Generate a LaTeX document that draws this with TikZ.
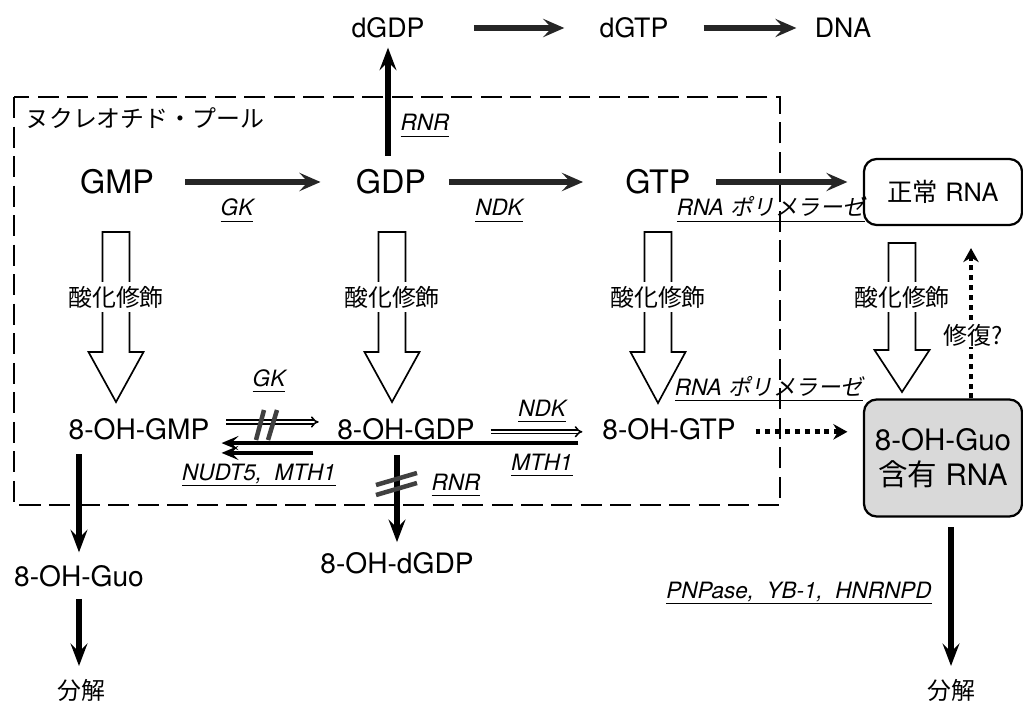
\documentclass[tikz,border=0pt]{standalone}
\usepackage{fontspec}
\setmainfont{TeX Gyre Heros}
\newfontfamily\jp{Noto Sans CJK JP}
\newfontfamily\jpit[FakeSlant=0.2]{Noto Sans CJK JP}
\usetikzlibrary{arrows.meta}
% underlined enzyme name
\newcommand{\enzul}[1]{\setbox0\hbox{#1}\leavevmode\rlap{\raisebox{-4.5pt}{\rule{\wd0}{0.9pt}}}\box0}
\begin{document}
\begin{tikzpicture}[x=0.025cm, y=-0.025cm,
    txt/.style={inner sep=0pt},
    big/.style={txt, font=\fontsize{23}{27}\selectfont},
    mid/.style={txt, font=\fontsize{19}{23}\selectfont},
    oxo/.style={txt, font=\fontsize{20}{24}\selectfont},
    jpt/.style={txt, font=\jp\fontsize{17}{20}\selectfont},
    enz/.style={txt, anchor=base, font=\fontsize{16}{19}\selectfont\itshape},
    rnabox/.style={draw, line width=1.6pt, rounded corners=9pt, minimum width=3.95cm, align=center},
    rxn/.style={line width=3.6pt, draw=black!85, -{Stealth[length=15pt,width=13pt,inset=6pt]}},
    downarr/.style={line width=3.8pt, -{Stealth[length=16pt,width=12pt,inset=6pt]}},
    revarr/.style={line width=2.6pt, -{Stealth[length=12pt,width=10pt,inset=5pt]}},
    fwd/.style={double, double distance=1.5pt, line width=1.1pt, -{Implies}},
    dotarr/.style={line width=3.5pt, dash pattern=on 3.5pt off 3.5pt, -{Stealth[length=10pt,width=11pt]}},
    openarr/.style={line width=1.2pt, fill=white},
    slashmark/.style={line width=3.2pt, draw=black!75},
    poolbox/.style={line width=1.4pt, dash pattern=on 15pt off 6pt}]
    \useasboundingbox (0,0) rectangle (1023,701);

    % nucleotide pool
    \draw[poolbox] (14,97) rectangle (780,505);
    \node[jpt, anchor=west] (pool) at (25,118) {ヌクレオチド・プール};

    % oxidation (open arrows)
    \foreach \x/\t/\h/\b in {116/232/352/402, 392/232/352/402, 658/232/352/403, 902/243/350/392}
        \draw[openarr] (\x-13.5,\t) -- (\x+13.5,\t) -- (\x+13.5,\h) -- (\x+27.5,\h)
            -- (\x,\b) -- (\x-27.5,\h) -- (\x-13.5,\h) -- cycle;
    \foreach \x [count=\i] in {116, 392, 658, 902}
        \node[jpt, fill=white, inner xsep=0pt, inner ysep=3pt] (ox\i) at (\x,297) {酸化修飾};

    % nucleotides
    \node[mid] (dgdp) at (388,28) {dGDP};
    \node[mid] (dgtp) at (634,28) {dGTP};
    \node[mid] (dna) at (843,28) {DNA};
    \node[big] (gmp) at (117,182) {GMP};
    \node[big] (gdp) at (391,182) {GDP};
    \node[big] (gtp) at (658,182) {GTP};
    \node[rnabox, fill=white, minimum height=1.65cm, font=\fontsize{18}{21}\selectfont] (nrna) at (943,192) {{\jp 正常} RNA};
    \node[oxo] (ogmp) at (139,429) {8-OH-GMP};
    \node[oxo] (ogdp) at (406,429) {8-OH-GDP};
    \node[oxo] (ogtp) at (669,429) {8-OH-GTP};
    \node[rnabox, fill=gray!30, minimum height=2.925cm, font=\fontsize{21}{25}\selectfont] (orna) at (943,458) {8-OH-Guo\\{\jp 含有} RNA};
    \node[oxo] (oguo) at (79,576) {8-OH-Guo};
    \node[oxo] (odgdp) at (397,563) {8-OH-dGDP};
    \node[jpt] (decl) at (81,690) {分解};
    \node[jpt] (decr) at (951,690) {分解};

    % enzymes
    \node[enz] (rnr1) at (425,131) {\enzul{RNR}};
    \node[enz] (gk1) at (237,216) {\enzul{GK}};
    \node[enz] (ndk1) at (499,216) {\enzul{NDK}};
    \node[enz] (pol1) at (771,216) {\enzul{RNA {\jpit ポリメラーゼ}}};
    \node[enz] (gk2) at (269,386) {\enzul{GK}};
    \node[enz] (ndk2) at (542,416) {\enzul{NDK}};
    \node[enz] (mth) at (542,470) {\enzul{MTH1}};
    \node[enz] (nudt) at (259,480) {\enzul{NUDT5,~~MTH1}};
    \node[enz] (rnr2) at (456,490) {\enzul{RNR}};
    \node[enz] (pol2) at (769,395) {\enzul{RNA {\jpit ポリメラーゼ}}};
    \node[enz] (deg) at (799,598) {\enzul{PNPase,~~YB-1,~~HNRNPD}};

    % normal pathway
    \draw[rxn, shorten <=22pt, shorten >=25pt] (gmp.east) -- (gdp.west);
    \draw[rxn, shorten <=16pt, shorten >=30pt] (gdp.east) -- (gtp.west);
    \draw[rxn, shorten <=18pt, shorten >=11pt] (gtp.east) -- (gtp.east -| nrna.west);
    \draw[rxn, shorten <=35pt, shorten >=25pt] (dgdp.east) -- (dgtp.west);
    \draw[rxn, shorten <=25pt, shorten >=13pt] (dgtp.east) -- (dna.west);
    \draw[downarr, shorten <=9.5pt, shorten >=6.5pt] (dgdp |- gdp.north) -- (dgdp.south);

    % oxidised pathway
    \draw[fwd, shorten <=12pt, shorten >=13pt] ([yshift=5pt]ogmp.east) -- ([yshift=5pt]ogdp.west);
    \draw[fwd, shorten <=11pt, shorten >=14pt] ([yshift=-2pt]ogdp.east) -- ([yshift=-2pt]ogtp.west);
    \draw[revarr, shorten <=17pt, shorten >=8.5pt] ([yshift=-10pt]ogtp.west) -- ([yshift=-10pt]ogmp.east);
    \draw[revarr, shorten <=17pt, shorten >=8.5pt] ([yshift=-17pt]ogdp.west) -- ([yshift=-17pt]ogmp.east);
    \draw[dotarr, shorten <=14pt, shorten >=11pt] ([yshift=-2pt]ogtp.east) -- ([yshift=-2pt]ogtp.east -| orna.west);
    \draw[downarr, shorten <=10pt, shorten >=9pt] (oguo |- ogmp.south) -- (oguo.north);
    \draw[downarr, shorten <=8.5pt, shorten >=9pt] (oguo.south) -- (oguo.south |- decl.north);
    \draw[downarr, shorten <=10.6pt, shorten >=7pt] (odgdp |- ogdp.south) -- (odgdp.north);
    \draw[downarr, shorten <=7pt, shorten >=9pt] (decr |- orna.south) -- (decr.north);

    % repair
    \coordinate (rep) at (971,300);
    \draw[dotarr, shorten >=15.6pt] (rep |- orna.north) -- (rep |- nrna.south);
    \node[jpt, fill=white, inner sep=1pt] (repl) at (973,335) {修復?};

    % blocked steps
    \draw[slashmark] (256,440) -- (264,410);
    \draw[slashmark] (268,440) -- (277,410);
    \draw[slashmark] (376,485) -- (417,473);
    \draw[slashmark] (376,495) -- (417,483);
\end{tikzpicture}
\end{document}
